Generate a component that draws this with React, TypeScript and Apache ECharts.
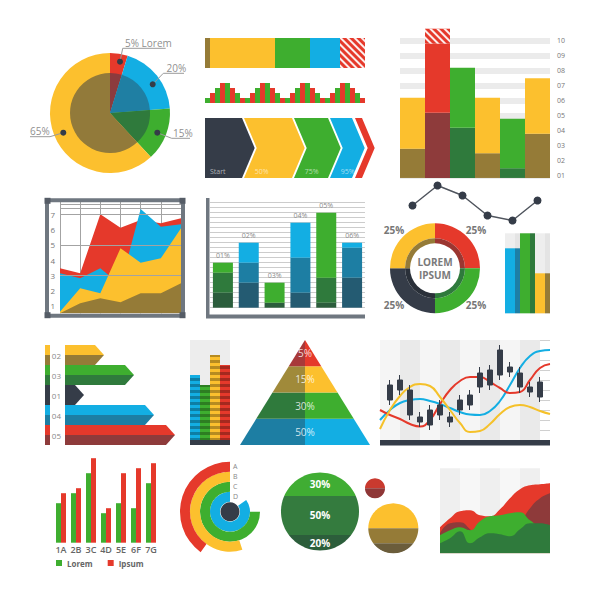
import React, { useEffect, useRef } from "react";
import * as echarts from "echarts";

const FONT = "'Open Sans', 'Noto Sans', sans-serif";
const Y = "#fcc02e", R = "#e5392b", G = "#3eae2f", B = "#13aee3", D = "#353c48";
const OL = "#957b37", DR = "#8e3b3b", DG = "#2f7a3c", TE = "#1d7ea3", DT = "#245b72", DDG = "#2b5d3c";

// Panel 1: pie
const pieLabels = ["5%", "20%", "15%", "65%"];
const pieValues = [5, 20, 15, 65];
const pieOuterColors = [R, B, G, Y];
const pieInnerColors = ["#8c3b3e", "#1f7fa3", "#2f7a3c", "#927a3a"];

// Panel 2
const stackValues = [5, 65, 35, 30, 25];
const stackColors = [OL, Y, G, B, R];
const miniBarValues = [1, 2, 3, 4, 4, 3, 2, 1, 1, 2, 3, 4, 4, 3, 2, 1, 1, 2, 3, 4, 4, 3, 2, 1, 1, 2, 3, 4, 4, 3, 2, 1];
const chevronStart = [0, 39, 89, 125, 150];
const chevronEnd = [37, 87, 123, 147, 157];
const chevronLabels = ["Start", "50%", "75%", "95%", ""];
const chevronColors = [D, Y, G, B, R];

// Panel 3
const p3Cats = ["a", "b", "c", "d", "e", "f"];
const p3Base = [0.85, 0.85, 0.85, 0.85, 0.85, 0.85];
const p3DarkTop = [2.8, 5.2, 4.2, 2.5, 1.5, 3.8];
const p3Top = [6.2, 9.8, 8.2, 6.2, 4.8, 7.5];
const p3Hatch = [0, 1, 0, 0, 0, 0];
const p3BrightColors = [Y, R, G, Y, G, Y];
const p3DarkColors = [OL, DR, DG, OL, DG, OL];
const p3Line = [3.9, 7.9, 5.9, 1.9, 0.9, 4.9];

// Panel 4: areas in frame
const p4X = ["1", "2", "3", "4", "5", "6", "7"];
const p4Red = [3.46, 3.13, 7.01, 6.13, 6.64, 6.42, 6.75];
const p4Blue = [3.13, 2.8, 3.46, 2.36, 7.36, 6.2, 6.36];
const p4Yellow = [0.61, 2.14, 1.82, 4.78, 3.83, 4.12, 6.09];
const p4Olive = [0.5, 1.16, 1.49, 1.22, 1.82, 1.82, 2.47];
const p4GridLines = [3, 5, 7, 7.38, 7.65];

// Panel 5: stacked bars
const p5Labels = ["01%", "02%", "03%", "04%", "05%", "06%"];
const p5Bottom = [3, 5, 1, 3, 1, 6];
const p5Mid = [4, 4, 0, 7, 5, 6];
const p5Top = [2, 4, 4, 7, 13, 1];
const p5TopColors = [G, B, G, B, G, B];
const p5MidColors = [DG, TE, DG, TE, DG, TE];
const p5BotColors = [DDG, DT, DDG, DT, DDG, DT];

// Panel 6: donut
const donutValues = [25, 25, 25, 25];
const donutColors = [R, G, D, Y];
const donutInner = ["#9b3631", "#2f7a3c", "#2a3039", OL];

// Panel 7
const p7Values = [65, 80, 40];
const p7Bright = [B, G, Y];
const p7Dark = ["#1d7fa6", DG, OL];

// Panel 8: arrows
const arrowRows = ["02", "03", "01", "04", "05"];
const arrowValues = [39, 69, 19, 89, 110];
const arrowTop = [Y, G, D, B, R];
const arrowBottom = [OL, DG, D, TE, DR];

// Panel 9: striped columns
const p9Values = [65, 55, 85, 75];
const p9Colors = [B, G, Y, R];

// Panel 10: pyramid (bottom to top)
const pyramidLabels = ["50%", "30%", "15%", "5%"];
const pyramidRight = [B, G, Y, R];
const pyramidLeft = [TE, DG, "#a08a3a", "#a8393a"];

// Panel 11: candlestick + lines
const candleCats = ["0", "1", "2", "3", "4", "5", "6", "7", "8", "9", "10", "11", "12", "13", "14", "15", "16", "17"];
const candleData = [
  ["-", "-", "-", "-"],
  [4.0, 5.5, 3.5, 6.0],
  [5.0, 6.0, 4.5, 6.5],
  [2.5, 5.0, 2.0, 5.5],
  [1.8, 2.3, 1.3, 2.8],
  [1.5, 3.0, 1.0, 3.5],
  [2.5, 3.5, 2.0, 4.0],
  [1.8, 2.3, 1.3, 2.8],
  [3.0, 4.0, 2.5, 4.5],
  [3.5, 4.5, 3.0, 5.0],
  [5.3, 6.7, 4.7, 7.3],
  [5.5, 7.0, 5.0, 7.5],
  [6.5, 9.0, 6.0, 9.5],
  [6.8, 7.3, 6.3, 7.8],
  [5.3, 6.7, 4.7, 7.3],
  [4.8, 5.3, 4.3, 5.8],
  [4.3, 5.8, 3.8, 6.3],
  ["-", "-", "-", "-"],
];
const blueLine = [2.0, 3.0, 3.7, 4.0, 4.1, 3.9, 3.6, 3.2, 2.8, 2.55, 2.5, 2.9, 3.9, 5.5, 7.2, 8.4, 8.9, 9.0];
const redLine = [3.0, 2.5, 2.1, 1.6, 1.35, 2.0, 3.6, 5.0, 5.9, 6.3, 6.3, 5.8, 5.2, 4.7, 4.8, 6.0, 7.2, 7.6];
const yellowLine = [1.1, 3.0, 4.4, 5.3, 5.6, 5.4, 4.3, 3.0, 1.7, 0.8, 0.9, 1.6, 2.6, 3.3, 3.5, 3.3, 2.9, 2.6];

// Panel 12: grouped bars
const groupCats = ["1A", "2B", "3C", "4D", "5E", "6F", "7G"];
const loremValues = [7.9, 9.9, 13.9, 5.9, 7.9, 6.9, 11.9];
const ipsumValues = [9.9, 10.9, 16.9, 6.9, 13.9, 14.9, 15.9];

// Panel 13: radial bars (inner to outer)
const radialCats = ["D", "C", "B", "A"];
const radialValues = [85, 75, 55, 40];
const radialColors = [B, G, Y, R];

// Panel 14-16: banded circles (top to bottom)
const bigBands = [30, 50, 20];
const bigLabels = ["30%", "50%", "20%"];
const bigColors = ["#40ad33", "#347b3e", "#2c5e3b"];
const redBands = [50, 50];
const redColors = ["#c93a2f", "#8f3737"];
const yellowBands = [50, 30, 20];
const yellowColors = [Y, OL, "#6b5d3b"];

// Panel 17: areas
const areaCats = ["0", "1", "2", "3", "4", "5", "6", "7", "8", "9", "10", "11"];
const areaRed = [26, 35, 42, 43, 38, 37, 44, 55, 64, 68, 69, 70];
const areaDarkRed = [20, 30, 31, 24, 14, 10, 12, 18, 30, 45, 55, 60];
const areaGreen = [18, 23, 26, 23, 32, 37, 38, 40, 41, 33, 28, 28];
const areaDarkGreen = [10, 15, 22, 10, 16, 20, 19, 17, 24, 30, 30, 28];

function cumulative(bands: number[]) {
  const out: number[][] = [];
  let acc = 0;
  bands.forEach((b) => {
    out.push([acc, acc + b]);
    acc += b;
  });
  return out;
}

function bandRender(colors: string[], labels?: string[]) {
  return (params: any, api: any) => {
    const a = api.value(0) / 100;
    const b = api.value(1) / 100;
    const i = params.dataIndex;
    const y0 = 1 - 2 * a;
    const y1 = 1 - 2 * b;
    const pts: number[][] = [];
    const N = 30;
    for (let k = 0; k <= N; k++) {
      const y = y0 + ((y1 - y0) * k) / N;
      const x = Math.sqrt(Math.max(0, 1 - y * y));
      pts.push(api.coord([x, y]));
    }
    for (let k = N; k >= 0; k--) {
      const y = y0 + ((y1 - y0) * k) / N;
      const x = Math.sqrt(Math.max(0, 1 - y * y));
      pts.push(api.coord([-x, y]));
    }
    const children: any[] = [{ type: "polygon", shape: { points: pts }, style: { fill: colors[i] } }];
    if (labels) {
      const c = api.coord([0, (y0 + y1) / 2]);
      children.push({
        type: "text",
        x: c[0],
        y: c[1],
        style: { text: labels[i], fill: "#ffffff", fontSize: 10, fontWeight: "bold", fontFamily: FONT, align: "center", verticalAlign: "middle" },
      });
    }
    return { type: "group", children };
  };
}

const hv = (i: number, min: number, max: number, extra: any = {}) => ({ type: "value", gridIndex: i, min, max, show: false, ...extra });
const hc = (i: number, data: string[], extra: any = {}) => ({ type: "category", gridIndex: i, data, show: false, ...extra });

function buildOption() {
  const grids = [
    [205, 38, 160, 30],
    [205, 83, 160, 20],
    [205, 118, 170, 60],
    [400, 25.7, 150, 165],
    [400, 180, 150, 45],
    [60, 202, 121, 111.3],
    [210, 202.7, 155, 105],
    [505, 233.3, 45, 80],
    [65, 345, 110, 100],
    [190, 340, 40, 100],
    [240, 340, 130, 105],
    [380, 340, 170, 100],
    [53.5, 457.7, 105, 85],
    [281, 472.5, 78, 78],
    [365, 478.3, 20, 20],
    [368.3, 503.3, 50, 50],
    [440, 468.3, 110, 85],
  ].map(([left, top, width, height]) => ({ left, top, width, height, containLabel: false }));

  const noAxisParts = { axisLine: { show: false }, axisTick: { show: false } };

  const xAxis = [
    hv(0, 0, 160),
    hc(1, miniBarValues.map((_, i) => "m" + i)),
    hv(2, 0, 170),
    hc(3, p3Cats),
    hc(4, p3Cats),
    {
      type: "category", gridIndex: 5, data: p4X, boundaryGap: false, ...noAxisParts,
      axisLabel: { show: false }, splitLine: { show: true, lineStyle: { color: "#a3a3a3", width: 1 } },
    },
    hc(6, p5Labels),
    hc(7, ["a", "b", "c"]),
    hv(8, 0, 110),
    hc(9, ["b", "g", "y", "r"]),
    hv(10, -1, 1),
    {
      type: "category", gridIndex: 11, data: candleCats, boundaryGap: false, ...noAxisParts,
      axisLabel: { show: false }, splitLine: { show: false },
      splitArea: { show: true, areaStyle: { color: ["#f5f5f5", "#eaeaea"] } },
    },
    {
      type: "category", gridIndex: 12, data: groupCats, ...noAxisParts,
      axisLabel: { color: "#666", fontSize: 9, fontWeight: 600, margin: 2, interval: 0, fontFamily: FONT },
    },
    hv(13, -1, 1),
    hv(14, -1, 1),
    hv(15, -1, 1),
    {
      type: "category", gridIndex: 16, data: areaCats, boundaryGap: false, ...noAxisParts,
      axisLabel: { show: false }, splitLine: { show: false },
      splitArea: { show: true, areaStyle: { color: ["#efefef", "#f7f7f7"] } },
    },
  ];

  const yAxis = [
    hc(0, ["a"]),
    hv(1, 0, 4),
    hv(2, 0, 1),
    {
      type: "value", gridIndex: 3, min: 0, max: 11, interval: 1, position: "right", ...noAxisParts,
      axisLabel: {
        color: "#777", fontSize: 7, margin: 7, showMinLabel: false, showMaxLabel: false, fontFamily: FONT,
        formatter: (v: number) => (v < 10 ? "0" + v : "" + v),
      },
      splitLine: { show: true, showMinLine: false, showMaxLine: false, lineStyle: { color: "#ebebeb", width: 6 } },
    },
    hv(4, 0, 9),
    {
      type: "value", gridIndex: 5, min: 0.5, max: 7.82, splitNumber: 7, ...noAxisParts,
      axisLabel: { color: "#777", fontSize: 8, margin: 5, showMinLabel: false, showMaxLabel: false, fontFamily: FONT },
      splitLine: { show: false },
    },
    {
      type: "value", gridIndex: 6, min: 0, max: 21, interval: 1, ...noAxisParts,
      axisLabel: { show: false }, splitLine: { show: true, lineStyle: { color: "#cccccc", width: 1 } },
    },
    hv(7, 0, 80),
    {
      type: "category", gridIndex: 8, data: arrowRows, inverse: true, ...noAxisParts,
      axisLabel: { color: "#888", fontSize: 8, margin: 4, interval: 0, fontFamily: FONT },
    },
    hv(9, 0, 100),
    hv(10, 0, 4),
    {
      type: "value", gridIndex: 11, min: 0, max: 10, interval: 1, ...noAxisParts,
      axisLabel: { show: false }, splitLine: { show: true, lineStyle: { color: "#d0d0d0", width: 1 } },
    },
    hv(12, 0, 17),
    hv(13, -1, 1),
    hv(14, -1, 1),
    hv(15, -1, 1),
    hv(16, 0, 85),
  ];

  const hatchDecal = {
    symbol: "rect", symbolSize: 1, dashArrayX: [1, 0], dashArrayY: [2, 3],
    rotation: Math.PI / 4, color: "rgba(255,255,255,0.9)",
  };

  const series: any[] = [];

  // Panel 1 pies
  series.push({
    type: "pie", center: [110, 113], radius: [0, 60], startAngle: 90, silent: true,
    label: { show: false }, labelLine: { show: false },
    data: pieValues.map((v, i) => ({ name: pieLabels[i], value: v, itemStyle: { color: pieOuterColors[i] } })),
  });
  series.push({
    type: "pie", center: [110, 113], radius: [0, 40], startAngle: 90, silent: true,
    label: { show: false }, labelLine: { show: false },
    data: pieValues.map((v, i) => ({ name: pieLabels[i], value: v, itemStyle: { color: pieInnerColors[i] } })),
  });

  // Panel 2a stacked bar
  stackValues.forEach((v, i) => {
    series.push({
      type: "bar", xAxisIndex: 0, yAxisIndex: 0, stack: "p2a", barWidth: 30, data: [v],
      itemStyle: { color: stackColors[i], decal: i === 4 ? hatchDecal : undefined },
    });
  });

  // Panel 2b mini bars
  series.push({
    type: "bar", xAxisIndex: 1, yAxisIndex: 1, barCategoryGap: "0%",
    data: miniBarValues.map((v, i) => ({ value: v, itemStyle: { color: i % 2 === 0 ? G : R } })),
  });

  // Panel 2c chevrons
  series.push({
    type: "custom", xAxisIndex: 2, yAxisIndex: 2,
    data: chevronStart.map((s, i) => [s, chevronEnd[i]]),
    renderItem: (params: any, api: any) => {
      const i = params.dataIndex;
      const tl = api.coord([api.value(0), 1]);
      const bl = api.coord([api.value(0), 0]);
      const tr = api.coord([api.value(1), 1]);
      const br = api.coord([api.value(1), 0]);
      const d = 12.7;
      const my = (tl[1] + bl[1]) / 2;
      const pts = [tl, tr, [tr[0] + d, my], br, bl];
      if (i > 0) pts.push([bl[0] + d, my]);
      const children: any[] = [{ type: "polygon", shape: { points: pts }, style: { fill: chevronColors[i] } }];
      if (chevronLabels[i]) {
        children.push({
          type: "text", x: bl[0] + (i > 0 ? d - 2 : 5), y: bl[1] - 7,
          style: { text: chevronLabels[i], fill: "rgba(255,255,255,0.6)", fontSize: 7, fontFamily: FONT, verticalAlign: "middle" },
        });
      }
      return { type: "group", children };
    },
  });

  // Panel 3 bars
  series.push({
    type: "bar", xAxisIndex: 3, yAxisIndex: 3, stack: "p3", barCategoryGap: "0%",
    data: p3Base, itemStyle: { color: "rgba(0,0,0,0)" }, silent: true,
  });
  series.push({
    type: "bar", xAxisIndex: 3, yAxisIndex: 3, stack: "p3", barCategoryGap: "0%",
    data: p3DarkTop.map((v, i) => ({ value: +(v - p3Base[i]).toFixed(2), itemStyle: { color: p3DarkColors[i] } })),
  });
  series.push({
    type: "bar", xAxisIndex: 3, yAxisIndex: 3, stack: "p3", barCategoryGap: "0%",
    data: p3Top.map((v, i) => ({ value: +(v - p3DarkTop[i]).toFixed(2), itemStyle: { color: p3BrightColors[i] } })),
  });
  series.push({
    type: "bar", xAxisIndex: 3, yAxisIndex: 3, stack: "p3", barCategoryGap: "0%",
    data: p3Hatch, itemStyle: { color: R, decal: hatchDecal },
  });
  series.push({
    type: "line", xAxisIndex: 4, yAxisIndex: 4, data: p3Line, symbol: "circle", symbolSize: 8,
    lineStyle: { color: "#50555e", width: 1.5 }, itemStyle: { color: D },
  });

  // Panel 4 grid lines + areas
  series.push({
    type: "line", xAxisIndex: 5, yAxisIndex: 5, data: [], z: 1, silent: true,
    markLine: {
      silent: true, symbol: "none", label: { show: false }, animation: false,
      lineStyle: { color: "#a3a3a3", width: 1, type: "solid" },
      data: p4GridLines.map((v) => ({ yAxis: v })),
    },
  });
  const p4Series = [
    [p4Red, R],
    [p4Blue, B],
    [p4Yellow, Y],
    [p4Olive, OL],
  ];
  p4Series.forEach(([data, color]: any, i) => {
    series.push({
      type: "line", xAxisIndex: 5, yAxisIndex: 5, data, symbol: "none", z: 2 + i,
      lineStyle: { width: 0 }, areaStyle: { color, opacity: 1, origin: "start" },
    });
  });

  // Panel 5 stacked bars
  [
    [p5Bottom, p5BotColors],
    [p5Mid, p5MidColors],
    [p5Top, p5TopColors],
  ].forEach(([vals, cols]: any, k) => {
    series.push({
      type: "bar", xAxisIndex: 6, yAxisIndex: 6, stack: "p5", barWidth: 20,
      data: vals.map((v: number, i: number) => ({ value: v, itemStyle: { color: cols[i] } })),
      label: k === 2
        ? { show: true, position: "top", distance: 4, color: "#8a8a8a", fontSize: 7, fontFamily: FONT, formatter: (p: any) => p5Labels[p.dataIndex] }
        : { show: false },
    });
  });

  // Panel 6 donut
  series.push({
    type: "pie", center: [435, 268.3], radius: [30, 45], startAngle: 90, silent: true,
    label: { show: false }, labelLine: { show: false },
    data: donutValues.map((v, i) => ({ name: "d" + i, value: v, itemStyle: { color: donutColors[i] } })),
  });
  series.push({
    type: "pie", center: [435, 268.3], radius: [25, 30], startAngle: 90, silent: true,
    label: { show: false }, labelLine: { show: false },
    data: donutValues.map((v, i) => ({ name: "e" + i, value: v, itemStyle: { color: donutInner[i] } })),
  });

  // Panel 7 small bars
  series.push({
    type: "bar", xAxisIndex: 7, yAxisIndex: 7, barWidth: 10, barGap: "0%",
    showBackground: true, backgroundStyle: { color: "#eeeeee" },
    data: p7Values.map((v, i) => ({ value: v, itemStyle: { color: p7Bright[i] } })),
  });
  series.push({
    type: "bar", xAxisIndex: 7, yAxisIndex: 7, barWidth: 5, barGap: "0%",
    showBackground: true, backgroundStyle: { color: "#e4e4e4" },
    data: p7Values.map((v, i) => ({ value: v, itemStyle: { color: p7Dark[i] } })),
  });

  // Panel 8 arrows
  series.push({
    type: "custom", xAxisIndex: 8, yAxisIndex: 8,
    data: arrowValues.map((v, i) => [v, i]),
    renderItem: (params: any, api: any) => {
      const i = params.dataIndex;
      const c = api.coord([api.value(0), api.value(1)]);
      const x0 = api.coord([0, api.value(1)])[0];
      const h = api.size([0, 1])[1];
      const yT = c[1] - h / 2, yM = c[1], yB = c[1] + h / 2;
      const tip = c[0], flat = tip - 9;
      return {
        type: "group",
        children: [
          { type: "polygon", shape: { points: [[x0, yT], [flat, yT], [tip, yM], [x0, yM]] }, style: { fill: arrowTop[i] } },
          { type: "polygon", shape: { points: [[x0, yM], [tip, yM], [flat, yB], [x0, yB]] }, style: { fill: arrowBottom[i] } },
          { type: "rect", shape: { x: x0 - 20, y: yT, width: 5, height: h / 2 }, style: { fill: arrowTop[i] } },
          { type: "rect", shape: { x: x0 - 20, y: yM, width: 5, height: h / 2 }, style: { fill: arrowBottom[i] } },
        ],
      };
    },
  });

  // Panel 9 striped columns
  series.push({
    type: "bar", xAxisIndex: 9, yAxisIndex: 9, barCategoryGap: "0%",
    showBackground: true, backgroundStyle: { color: "#ededed" },
    data: p9Values.map((v, i) => ({
      value: v,
      itemStyle: { color: p9Colors[i], decal: { symbol: "rect", symbolSize: 1, dashArrayX: [1, 0], dashArrayY: [3, 3], color: "rgba(0,0,0,0.28)" } },
    })),
  });

  // Panel 10 pyramid
  series.push({
    type: "custom", xAxisIndex: 10, yAxisIndex: 10,
    data: pyramidLabels.map((_, i) => [0, i]),
    renderItem: (params: any, api: any) => {
      const i = params.dataIndex;
      const n = pyramidLabels.length;
      const w0 = 1 - i / n, w1 = 1 - (i + 1) / n;
      const c = api.coord([0, i + 0.5]);
      return {
        type: "group",
        children: [
          { type: "polygon", shape: { points: [api.coord([-w0, i]), api.coord([0, i]), api.coord([0, i + 1]), api.coord([-w1, i + 1])] }, style: { fill: pyramidLeft[i] } },
          { type: "polygon", shape: { points: [api.coord([0, i]), api.coord([w0, i]), api.coord([w1, i + 1]), api.coord([0, i + 1])] }, style: { fill: pyramidRight[i] } },
          { type: "text", x: c[0], y: c[1], style: { text: pyramidLabels[i], fill: "rgba(255,255,255,0.8)", fontSize: 10, fontFamily: FONT, align: "center", verticalAlign: "middle" } },
        ],
      };
    },
  });

  // Panel 11 candlestick + lines
  [
    [blueLine, B],
    [redLine, R],
    [yellowLine, "#f5c12a"],
  ].forEach(([data, color]: any) => {
    series.push({
      type: "line", xAxisIndex: 11, yAxisIndex: 11, data, smooth: true, symbol: "none", z: 2,
      lineStyle: { color, width: 2 },
    });
  });
  series.push({
    type: "candlestick", xAxisIndex: 11, yAxisIndex: 11, data: candleData, barWidth: 5, z: 3,
    itemStyle: { color: D, color0: D, borderColor: D, borderColor0: D, borderWidth: 1 },
  });

  // Panel 12 grouped bars
  series.push({
    name: "Lorem", type: "bar", xAxisIndex: 12, yAxisIndex: 12, barWidth: 5, barGap: "0%",
    data: loremValues, itemStyle: { color: G },
  });
  series.push({
    name: "Ipsum", type: "bar", xAxisIndex: 12, yAxisIndex: 12, barWidth: 5, barGap: "0%",
    data: ipsumValues, itemStyle: { color: R },
  });

  // Panel 13 radial bars
  series.push({
    type: "bar", coordinateSystem: "polar", barCategoryGap: "0%",
    data: radialValues.map((v, i) => ({ value: v, itemStyle: { color: radialColors[i] } })),
  });

  // Panel 14-16 banded circles
  series.push({ type: "custom", xAxisIndex: 13, yAxisIndex: 13, data: cumulative(bigBands), renderItem: bandRender(bigColors, bigLabels) });
  series.push({ type: "custom", xAxisIndex: 14, yAxisIndex: 14, data: cumulative(redBands), renderItem: bandRender(redColors) });
  series.push({ type: "custom", xAxisIndex: 15, yAxisIndex: 15, data: cumulative(yellowBands), renderItem: bandRender(yellowColors) });

  // Panel 17 areas
  [
    [areaRed, R],
    [areaDarkRed, "#8e3a3a"],
    [areaGreen, G],
    [areaDarkGreen, DG],
  ].forEach(([data, color]: any, i) => {
    series.push({
      type: "line", xAxisIndex: 16, yAxisIndex: 16, data, smooth: true, symbol: "none", z: 2 + i,
      lineStyle: { width: 0 }, areaStyle: { color, opacity: 1 },
    });
  });

  const gray = "#8f8f8f";
  const txt = (text: string, x: number, y: number, extra: any = {}) => ({
    type: "text", x, y, z: 20,
    style: { text, fill: gray, fontSize: 10, fontFamily: FONT, verticalAlign: "middle", ...extra },
  });
  const dot = (cx: number, cy: number) => ({ type: "circle", z: 20, shape: { cx, cy, r: 3 }, style: { fill: D } });
  const pl = (points: number[][]) => ({ type: "polyline", z: 19, shape: { points }, style: { stroke: "#9a9a9a", lineWidth: 1, fill: null } });
  const donutTxt = { fontSize: 10, fontWeight: "bold", fill: "#777", align: "center" };

  const graphic = [
    // pie annotations
    pl([[120, 61.7], [122.7, 48.3], [165.7, 48.3]]),
    dot(120, 61.7),
    txt("5% Lorem", 125, 42.5),
    pl([[152.7, 84.3], [163.3, 73.3], [184, 73.3]]),
    dot(152.7, 84.3),
    txt("20%", 166.5, 67.5),
    pl([[157.3, 132.7], [171.7, 138.3], [190, 138.3]]),
    dot(157.3, 132.7),
    txt("15%", 173, 132.5),
    pl([[63.3, 132.7], [50, 136.7], [30, 136.7]]),
    dot(63.3, 132.7),
    txt("65%", 30, 131),
    // frame for panel 4
    { type: "rect", z: 10, shape: { x: 47, y: 200.3, width: 136, height: 115.4 }, style: { fill: null, stroke: "#6f7780", lineWidth: 4 } },
    { type: "rect", z: 11, shape: { x: 44.5, y: 197.8, width: 6, height: 6 }, style: { fill: "#555c66" } },
    { type: "rect", z: 11, shape: { x: 179.5, y: 197.8, width: 6, height: 6 }, style: { fill: "#555c66" } },
    { type: "rect", z: 11, shape: { x: 44.5, y: 312.2, width: 6, height: 6 }, style: { fill: "#555c66" } },
    { type: "rect", z: 11, shape: { x: 179.5, y: 312.2, width: 6, height: 6 }, style: { fill: "#555c66" } },
    // panel 5 axis bars
    { type: "rect", z: 10, shape: { x: 206, y: 198, width: 3.5, height: 120 }, style: { fill: "#6f7780" } },
    { type: "rect", z: 10, shape: { x: 206, y: 314.5, width: 159, height: 4 }, style: { fill: "#6f7780" } },
    // donut texts
    txt("25%", 394, 230, donutTxt),
    txt("25%", 476, 230, donutTxt),
    txt("25%", 394, 305, donutTxt),
    txt("25%", 476, 305, donutTxt),
    txt("LOREM", 435, 262, { ...donutTxt, fill: "#7a7a7a" }),
    txt("IPSUM", 435, 275, { ...donutTxt, fill: "#7a7a7a" }),
    // panel 9 base strip
    { type: "rect", z: 10, shape: { x: 190, y: 440, width: 40, height: 5 }, style: { fill: D } },
    // candlestick base
    { type: "rect", z: 10, shape: { x: 380, y: 440, width: 170, height: 5.5 }, style: { fill: D } },
    // radial center
    { type: "circle", z: 10, shape: { cx: 230, cy: 511.7, r: 9.5 }, style: { fill: D } },
  ];

  return {
    animation: false,
    backgroundColor: "#ffffff",
    textStyle: { fontFamily: FONT },
    legend: {
      data: ["Lorem", "Ipsum"], left: 56, top: 559, padding: 0, icon: "rect", itemWidth: 6, itemHeight: 6, itemGap: 15,
      selectedMode: false, textStyle: { fontSize: 8, color: "#666", fontWeight: "bold", fontFamily: FONT },
    },
    grid: grids,
    xAxis,
    yAxis,
    polar: { center: [230, 511.7], radius: [10, 50] },
    angleAxis: { max: 100, startAngle: 90, clockwise: false, show: false },
    radiusAxis: {
      type: "category", data: radialCats, z: 10,
      axisLine: { show: false }, axisTick: { show: false }, splitLine: { show: false },
      axisLabel: { color: "#888", fontSize: 7, margin: -3, align: "left", interval: 0, fontFamily: FONT },
    },
    series,
    graphic: { elements: graphic },
  };
}

export default function App() {
  const ref = useRef<HTMLDivElement>(null);
  useEffect(() => {
    if (!ref.current) return;
    const chart = echarts.init(ref.current, null, { renderer: "svg" });
    chart.setOption(buildOption() as any);
    return () => chart.dispose();
  }, []);
  return (
    <div
      ref={ref}
      style={{ position: "absolute", left: 0, top: 0, width: 600, height: 600, background: "#ffffff" }}
    />
  );
}
